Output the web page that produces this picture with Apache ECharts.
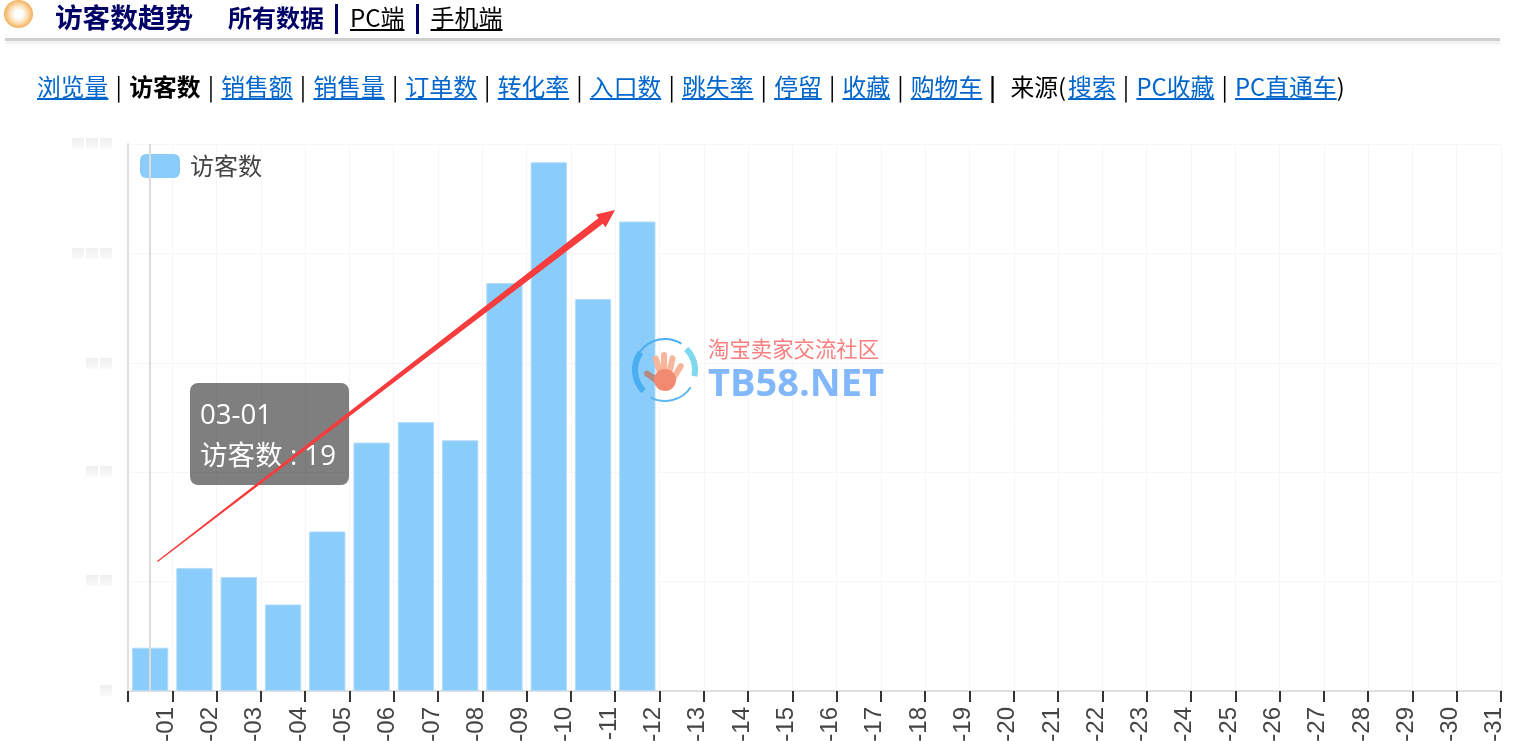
<!DOCTYPE html>
<html>
<head>
<meta charset="utf-8">
<title>访客数趋势</title>
<script src="https://cdn.jsdelivr.net/npm/echarts@6/dist/echarts.min.js"></script>
<style>
  html, body { margin: 0; padding: 0; background: #fff; overflow: hidden; }
  body { font-family: "Noto Sans CJK SC", sans-serif; }
  #main { position: absolute; left: 0; top: 0; width: 1515px; height: 741px; z-index: 1; }
  #over { position: absolute; left: 0; top: 0; width: 1515px; height: 741px; z-index: 2; pointer-events: none; }
  .head { position: absolute; z-index: 5; white-space: nowrap; line-height: 34px; }
  #icon { left: 4px; top: 0; width: 29px; height: 28px; border-radius: 50%;
    background: radial-gradient(circle, #fff 0, #fff 20%, #fbe3bd 42%, #f2a94e 75%, #efa545 100%); }
  #rule { left: 5px; top: 38px; width: 1495px; height: 3px; background: #cfcfcf; box-shadow: 0 3px 3px #eee; }
  #top { left: 55px; top: 0; font-size: 24px; color: #000; display: flex; align-items: center; }
  #top b { color: #000066; }
  #top u { font-weight: normal; }
  #top i { display: inline-block; width: 3px; height: 30px; background: #000066; margin: 3px 12px 0 11px; }
  #nav { left: 37px; top: 69px; font-size: 23.8px; display: flex; color: #000; }
  #nav a { color: #0066cc; text-decoration: underline; }
  #nav span { display: inline-block; width: 20.75px; text-align: center; }
</style>
</head>
<body>
<div id="main"></div>
<div id="over"></div>
<div id="icon" class="head"></div>
<div id="top" class="head">
  <b style="font-size:27.6px;margin-right:35px;margin-top:-2px">访客数趋势</b><b>所有数据</b><i></i><u>PC端</u><i></i><u>手机端</u>
</div>
<div id="rule" class="head"></div>
<div id="nav" class="head"></div>
<script>
const metricLinks = ['浏览量', '访客数', '销售额', '销售量', '订单数', '转化率', '入口数', '跳失率', '停留', '收藏', '购物车']
const sourceLinks = ['搜索', 'PC收藏', 'PC直通车']
const days = ['03-01', '03-02', '03-03', '03-04', '03-05', '03-06', '03-07', '03-08', '03-09', '03-10', '03-11',
  '03-12', '03-13', '03-14', '03-15', '03-16', '03-17', '03-18', '03-19', '03-20', '03-21', '03-22', '03-23',
  '03-24', '03-25', '03-26', '03-27', '03-28', '03-29', '03-30', '03-31']
const visitors = [19, 54, 50, 38, 70, 109, 118, 110, 179, 232, 172, 206]
const seriesName = '访客数'

// 顶部链接
let navHtml = metricLinks.map(m => m === seriesName ? '<b>' + m + '</b>' : '<a>' + m + '</a>').join('<span>|</span>')
navHtml += '<span style="font-weight:bold">|</span><span style="width:7.5px"></span>来源(<span style="width:2px"></span>'
navHtml += sourceLinks.map(m => '<a>' + m + '</a>').join('<span>|</span>') + ')'
document.getElementById('nav').innerHTML = navHtml

// 打码的y轴标签
const blurBlocks = []
const addBlur = (right, count, y) => {
  for (let i = 0; i < count; i++) {
    blurBlocks.push({
      type: 'rect', silent: true,
      shape: { x: right - 12 - i * 14, y: y, width: 12, height: 11 },
      style: {
        fill: { type: 'linear', x: 0, y: 0, x2: 0, y2: 1, colorStops: [{ offset: 0, color: '#efefef' }, { offset: 1, color: '#fafafa' }] }
      }
    })
  }
}
addBlur(112, 3, 138)
addBlur(112, 3, 248)
addBlur(112, 2, 358)
addBlur(112, 2, 466)
addBlur(112, 2, 575)
addBlur(112, 1, 685)

// 水印
const finger = (x, y, w, h, rot, color) => ({
  type: 'rect', silent: true, z: 90, x: x, y: y, rotation: rot,
  shape: { x: -w / 2, y: -h, width: w, height: h, r: w / 2 },
  style: { fill: color }
})
const watermark = [
  { type: 'arc', silent: true, z: 90, shape: { cx: 665, cy: 370, r: 30, startAngle: 2.36, endAngle: 3.77 }, style: { stroke: '#4aaef0', lineWidth: 6, fill: null } },
  { type: 'arc', silent: true, z: 90, shape: { cx: 665, cy: 370, r: 31, startAngle: 3.77, endAngle: 5.27 }, style: { stroke: '#4aaef0', lineWidth: 2, fill: null } },
  { type: 'arc', silent: true, z: 90, shape: { cx: 665, cy: 370, r: 30, startAngle: 5.5, endAngle: 6.49 }, style: { stroke: '#80d8ec', lineWidth: 6, fill: null } },
  { type: 'arc', silent: true, z: 90, shape: { cx: 665, cy: 370, r: 31, startAngle: 0.59, endAngle: 2.06 }, style: { stroke: '#5cb6f2', lineWidth: 2, fill: null } },
  finger(660, 373, 6, 18, 0.28, '#f8b59a'),
  finger(664, 373, 6, 21, 0, '#f8b59a'),
  finger(669, 374, 6, 19, -0.22, '#f8b59a'),
  finger(673, 379, 6, 18, -0.54, '#f8b59a'),
  finger(660, 383, 6, 19, 0.94, '#b58a80'),
  { type: 'circle', silent: true, z: 90, shape: { cx: 665, cy: 380, r: 11 }, style: { fill: '#f28a72' } },
  { type: 'text', silent: true, z: 90, style: { x: 708, y: 349, text: '淘宝卖家交流社区', fill: '#f87f7f', font: '21.4px "Noto Sans CJK SC"', verticalAlign: 'middle' } },
  { type: 'text', silent: true, z: 90, style: { x: 708, y: 385, text: 'TB58.NET', fill: '#82b8fb', font: 'bold 38px "Open Sans"', verticalAlign: 'middle' } }
]

let myChart = echarts.init(document.getElementById('main'))
let options = {
  animation: false,
  grid: { left: 128, right: 14, top: 144, bottom: 50, outerBoundsMode: 'none' },
  legend: {
    left: 140, top: 154, padding: 0,
    icon: 'roundRect', itemWidth: 40, itemHeight: 24,
    itemStyle: { borderWidth: 0 },
    textStyle: { fontSize: 24, color: '#444', fontFamily: 'Noto Sans CJK SC', padding: [0, 0, 0, 5] },
    data: [seriesName]
  },
  tooltip: {
    trigger: 'axis',
    position: [190, 383],
    alwaysShowContent: true,
    backgroundColor: 'rgba(0,0,0,0.5)',
    borderWidth: 0,
    padding: [10, 13, 10, 10],
    extraCssText: 'border-radius:8px;box-shadow:none;',
    textStyle: { color: '#fff', fontSize: 27.6, fontFamily: '"Open Sans", "Noto Sans CJK SC"' },
    axisPointer: { type: 'line', lineStyle: { color: '#dcdcdc', width: 2, type: 'solid' } },
    formatter: function (params) {
      return '<div style="line-height:41px">' + params[0].name + '<br/>' + params[0].seriesName + ' : ' + params[0].value + '</div>'
    }
  },
  xAxis: {
    type: 'category',
    data: days,
    axisLine: { lineStyle: { color: '#e0e0e0', width: 2 } },
    axisTick: { show: true, length: 11, lineStyle: { color: '#333', width: 2 } },
    splitLine: { show: true, interval: 0, lineStyle: { color: '#f5f5fa' } },
    axisLabel: {
      interval: 0, rotate: 90, margin: 16,
      align: 'right', verticalAlign: 'top', padding: [4, 0, 0, 0],
      color: '#444', fontSize: 24, fontFamily: 'Liberation Sans'
    }
  },
  yAxis: {
    type: 'value',
    min: 0, max: 240, interval: 48,
    axisLine: { show: true, lineStyle: { color: '#e0e0e0', width: 2 } },
    axisTick: { show: false },
    axisLabel: { show: false },
    splitLine: { lineStyle: { color: '#f5f5fa' } }
  },
  series: [
    {
      name: seriesName,
      type: 'bar',
      barCategoryGap: '18%',
      emphasis: { disabled: true },
      itemStyle: { color: '#8accfa', borderColor: '#b5dcfa', borderWidth: 1 },
      data: visitors
    }
  ],
  graphic: { elements: blurBlocks.concat(watermark) }
}
myChart.setOption(options)
myChart.dispatchAction({ type: 'showTip', seriesIndex: 0, dataIndex: 0 })

// 手绘的红色箭头,盖在提示框上面
let overChart = echarts.init(document.getElementById('over'))
overChart.setOption({
  animation: false,
  graphic: {
    elements: [{
      type: 'polygon', silent: true,
      shape: { points: [[157, 561], [157.8, 562], [602.8, 223.7], [605.6, 227.3], [615, 210], [595.8, 214.5], [598.6, 218.1]] },
      style: { fill: '#f63c3c' }
    }]
  }
})
</script>
</body>
</html>
